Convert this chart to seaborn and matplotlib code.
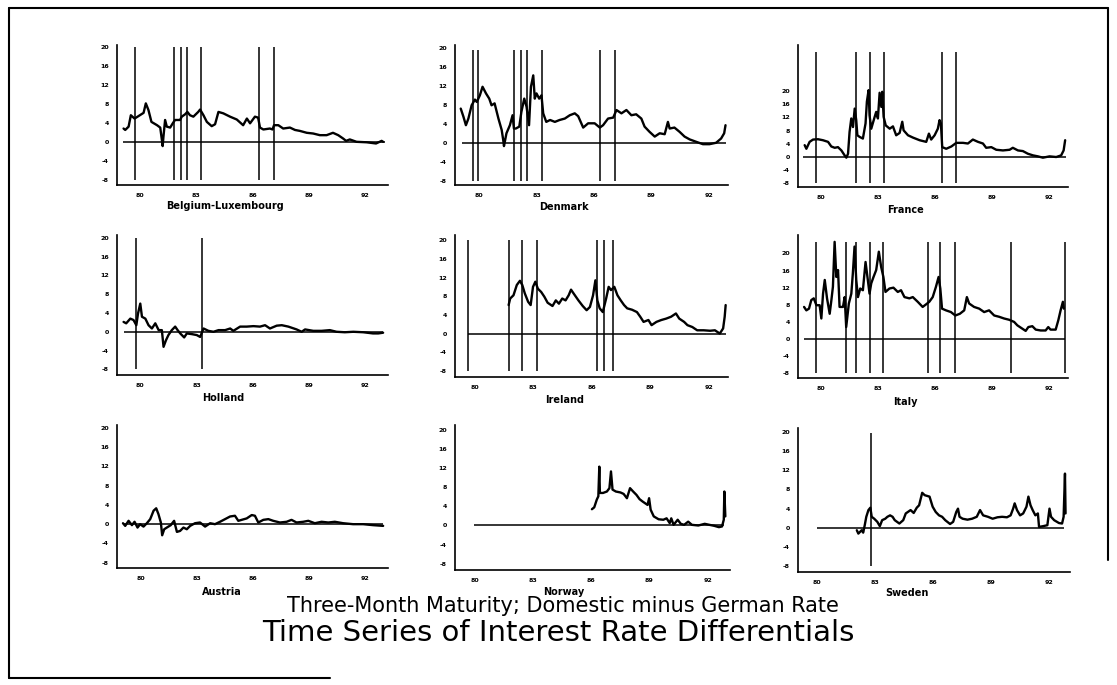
import seaborn as sns
import matplotlib.pyplot as plt
from matplotlib.lines import Line2D

# three-month rate differentials (domestic minus German)
# time axis in years (80 = 1980), values in percentage points
bel_t = [79.11, 79.2, 79.38, 79.5, 79.7, 79.9, 80.18, 80.3, 80.44, 80.6, 80.9, 81.07, 81.16, 81.2, 81.24,
         81.33, 81.42, 81.6, 81.74, 81.86, 82.13, 82.22, 82.4, 82.52, 82.66, 82.84, 83.1, 83.2, 83.38, 83.56,
         83.82, 84.0, 84.18, 84.44, 84.8, 85.16, 85.5, 85.7, 85.87, 86.13, 86.3, 86.4, 86.58, 86.93, 87.07,
         87.15, 87.38, 87.64, 88.0, 88.27, 88.53, 88.9, 89.24, 89.6, 89.96, 90.3, 90.58, 90.84, 91.0, 91.2,
         91.56, 92.1, 92.6, 92.9, 92.98]
bel_v = [2.8, 2.5, 3.2, 5.6, 4.9, 5.4, 6.1, 8.1, 6.7, 4.2, 3.5, 3.0, 0.35, -0.9, 1.0,
         4.6, 3.2, 3.0, 3.9, 4.6, 4.6, 5.3, 5.8, 6.3, 5.6, 5.3, 6.3, 6.8, 5.6, 4.2,
         3.3, 3.7, 6.3, 6.0, 5.3, 4.7, 3.5, 4.9, 3.9, 5.3, 5.1, 3.0, 2.6, 2.8, 2.6,
         3.5, 3.5, 2.8, 3.0, 2.5, 2.3, 1.9, 1.75, 1.4, 1.4, 1.9, 1.4, 0.7, 0.2, 0.5,
         0.0, -0.1, -0.35, 0.2, 0.0]
bel_realign = [79.7, 81.81, 82.19, 82.52, 83.27, 86.35, 87.15]

den_t = [79.03, 79.17, 79.3, 79.43, 79.6, 79.77, 79.87, 80.03, 80.17, 80.35, 80.52, 80.64, 80.8, 81.0, 81.17,
         81.25, 81.29, 81.42, 81.6, 81.74, 81.81, 81.91, 82.09, 82.2, 82.35, 82.47, 82.6, 82.7, 82.82, 82.9,
         82.99, 83.13, 83.25, 83.34, 83.5, 83.7, 83.95, 84.2, 84.47, 84.73, 84.99, 85.17, 85.43, 85.69, 86.03,
         86.3, 86.47, 86.73, 87.0, 87.17, 87.43, 87.69, 87.95, 88.2, 88.47, 88.64, 88.9, 89.17, 89.43, 89.69,
         89.86, 89.95, 90.2, 90.47, 90.73, 91.0, 91.34, 91.69, 92.03, 92.38, 92.64, 92.8, 92.87]
den_v = [7.2, 5.5, 3.7, 5.1, 7.9, 9.1, 8.6, 10.0, 11.8, 10.4, 9.3, 7.9, 8.3, 5.1, 2.7,
         0.6, -0.7, 2.0, 3.7, 5.8, 3.0, 3.0, 3.4, 6.5, 9.3, 7.6, 3.7, 11.8, 14.2, 9.3,
         10.4, 9.3, 10.0, 6.2, 4.4, 4.8, 4.4, 4.8, 5.1, 5.8, 6.2, 5.6, 3.2, 4.1, 4.1,
         3.2, 3.7, 5.1, 5.3, 6.9, 6.2, 6.9, 5.8, 6.0, 5.1, 3.4, 2.3, 1.3, 2.0, 1.8,
         4.4, 3.0, 3.2, 2.3, 1.3, 0.7, 0.2, -0.3, -0.3, 0.0, 0.9, 2.0, 3.7]
den_realign = [79.65, 79.95, 81.81, 82.17, 82.49, 83.27, 86.33, 87.1]

fra_t = [79.16, 79.25, 79.42, 79.6, 79.86, 80.12, 80.39, 80.56, 80.74, 80.91, 81.09, 81.26, 81.35, 81.44, 81.52,
         81.61, 81.7, 81.79, 81.87, 81.93, 82.05, 82.22, 82.36, 82.43, 82.52, 82.57, 82.66, 82.84, 82.92, 83.01,
         83.1, 83.19, 83.24, 83.31, 83.42, 83.63, 83.8, 83.97, 84.15, 84.29, 84.36, 84.59, 84.85, 85.2, 85.55,
         85.69, 85.81, 85.99, 86.16, 86.25, 86.32, 86.39, 86.6, 86.87, 87.13, 87.48, 87.74, 88.0, 88.27, 88.53,
         88.7, 88.97, 89.23, 89.58, 89.93, 90.1, 90.37, 90.63, 90.89, 91.16, 91.42, 91.68, 92.03, 92.38, 92.64,
         92.77, 92.85]
fra_v = [3.6, 2.5, 4.6, 5.3, 5.4, 5.1, 4.6, 3.2, 2.8, 3.0, 2.0, 0.5, -0.2, 1.0, 7.6,
         11.7, 9.1, 14.7, 11.2, 6.6, 6.1, 5.6, 10.2, 16.8, 20.3, 12.7, 8.6, 12.2, 13.7, 11.7,
         19.5, 15.2, 19.8, 12.2, 9.6, 8.6, 9.3, 6.6, 7.3, 10.7, 8.1, 6.6, 5.9, 5.1, 4.6,
         7.1, 5.3, 6.6, 8.6, 11.2, 10.2, 3.0, 2.5, 3.2, 4.3, 4.3, 4.1, 5.3, 4.6, 4.1,
         2.8, 3.0, 2.2, 2.0, 2.2, 2.8, 2.0, 1.8, 1.0, 0.5, 0.2, -0.2, 0.2, 0.0, 0.5,
         2.0, 5.1]
fra_realign = [79.77, 81.87, 82.57, 83.31, 86.36, 87.13]

hol_t = [79.11, 79.25, 79.47, 79.64, 79.79, 79.88, 80.0, 80.09, 80.27, 80.44, 80.62, 80.8, 80.98, 81.15, 81.24,
         81.37, 81.5, 81.68, 81.86, 81.99, 82.13, 82.34, 82.48, 82.75, 83.01, 83.19, 83.37, 83.63, 83.9, 84.17,
         84.52, 84.79, 84.96, 85.32, 85.67, 86.03, 86.38, 86.65, 86.91, 87.27, 87.54, 87.89, 88.33, 88.6, 88.78,
         89.22, 89.66, 90.1, 90.46, 90.9, 91.35, 91.88, 92.4, 92.68, 92.94]
hol_v = [2.1, 1.8, 2.8, 2.5, 1.4, 3.9, 6.0, 3.2, 2.8, 1.4, 0.7, 1.8, 0.35, 0.35, -3.2,
         -1.8, -0.7, 0.35, 1.1, 0.35, -0.35, -1.2, -0.35, -0.5, -0.7, -1.1, 0.7, 0.2, 0.0, 0.35,
         0.35, 0.7, 0.2, 1.1, 1.1, 1.2, 1.1, 1.4, 0.7, 1.3, 1.4, 1.1, 0.5, 0.0, 0.5,
         0.2, 0.2, 0.35, 0.0, -0.1, 0.0, -0.1, -0.35, -0.35, -0.2]
hol_realign = [79.77, 83.28]

ire_t = [81.75, 81.83, 82.0, 82.17, 82.33, 82.45, 82.58, 82.75, 82.88, 83.0, 83.12, 83.25, 83.42, 83.58, 83.75,
         84.0, 84.17, 84.33, 84.5, 84.67, 84.83, 84.95, 85.08, 85.33, 85.55, 85.75, 85.92, 86.08, 86.2, 86.3,
         86.42, 86.58, 86.75, 86.88, 87.0, 87.17, 87.33, 87.5, 87.67, 87.83, 88.08, 88.33, 88.5, 88.67, 88.92,
         89.08, 89.33, 89.58, 89.83, 90.08, 90.33, 90.5, 90.75, 90.92, 91.17, 91.42, 91.75, 92.08, 92.33, 92.58,
         92.75, 92.83, 92.88]
ire_v = [6.1, 7.5, 8.2, 10.4, 11.3, 10.4, 8.6, 6.8, 6.1, 10.0, 11.1, 9.6, 8.9, 7.9, 6.6,
         5.9, 7.1, 6.4, 7.5, 7.1, 8.2, 9.4, 8.6, 7.1, 5.9, 5.0, 5.7, 8.2, 11.4, 7.1,
         5.4, 4.6, 7.5, 10.0, 9.3, 10.0, 8.2, 7.1, 6.1, 5.4, 5.1, 4.6, 3.6, 2.5, 2.9,
         1.8, 2.5, 2.9, 3.2, 3.6, 4.3, 3.2, 2.5, 1.8, 1.4, 0.7, 0.7, 0.6, 0.7, 0.0,
         1.1, 3.6, 6.1]
ire_realign = [79.67, 81.75, 82.45, 83.22, 86.28, 86.63, 87.1]

ita_t = [79.09, 79.21, 79.35, 79.47, 79.6, 79.74, 79.91, 80.0, 80.09, 80.18, 80.3, 80.44, 80.53, 80.61, 80.7,
         80.79, 80.88, 80.96, 81.14, 81.23, 81.31, 81.45, 81.58, 81.66, 81.75, 81.84, 81.93, 82.05, 82.19, 82.33,
         82.45, 82.54, 82.63, 82.75, 82.89, 83.03, 83.15, 83.27, 83.38, 83.59, 83.8, 84.03, 84.2, 84.38, 84.64,
         84.82, 85.08, 85.34, 85.52, 85.69, 85.87, 86.04, 86.18, 86.27, 86.36, 86.57, 86.83, 87.06, 87.3, 87.53,
         87.67, 87.79, 88.05, 88.32, 88.58, 88.84, 89.11, 89.37, 89.63, 89.9, 90.16, 90.33, 90.6, 90.77, 90.91,
         91.12, 91.3, 91.56, 91.82, 91.96, 92.08, 92.35, 92.49, 92.61, 92.73, 92.78]
ita_v = [7.5, 6.7, 7.1, 9.1, 9.5, 7.9, 7.9, 4.8, 10.6, 13.8, 9.5, 5.9, 9.1, 12.2, 22.7,
         14.5, 16.1, 7.5, 7.5, 9.8, 2.8, 8.3, 10.6, 15.3, 21.6, 13.8, 9.8, 11.8, 11.4, 18.0,
         13.8, 10.6, 13.0, 14.5, 16.1, 20.4, 16.9, 14.5, 11.0, 11.8, 12.0, 11.0, 11.4, 9.8, 9.5,
         9.8, 8.7, 7.5, 8.1, 8.7, 9.8, 12.2, 14.5, 11.8, 7.1, 6.7, 6.3, 5.5, 5.9, 6.7,
         9.8, 8.3, 7.5, 7.1, 6.3, 6.7, 5.5, 5.2, 4.8, 4.5, 4.0, 3.2, 2.4, 1.9, 2.8,
         3.0, 2.2, 2.0, 2.0, 2.8, 2.2, 2.2, 4.4, 6.7, 8.7, 7.1]
ita_realign = [79.74, 81.31, 81.84, 82.54, 83.27, 85.6, 86.27, 87.06, 90.02, 92.84]

aut_t = [79.04, 79.16, 79.34, 79.52, 79.66, 79.82, 79.96, 80.14, 80.32, 80.5, 80.68, 80.82, 80.94, 81.07, 81.14,
         81.25, 81.39, 81.6, 81.78, 81.93, 82.1, 82.28, 82.46, 82.64, 82.9, 83.17, 83.44, 83.71, 83.97, 84.24,
         84.51, 84.78, 85.04, 85.22, 85.4, 85.67, 85.94, 86.11, 86.29, 86.56, 86.83, 87.09, 87.45, 87.81, 88.07,
         88.34, 88.7, 88.97, 89.32, 89.68, 90.04, 90.39, 90.84, 91.37, 91.91, 92.44, 92.98]
aut_v = [0.2, -0.35, 0.7, -0.2, 0.5, -0.7, 0.0, -0.5, 0.2, 1.05, 2.8, 3.3, 2.1, 0.35, -2.3,
         -1.05, -0.7, -0.2, 0.7, -1.6, -1.4, -0.7, -1.05, -0.35, 0.2, 0.35, -0.5, 0.2, 0.0, 0.5,
         1.05, 1.6, 1.75, 0.7, 0.9, 1.2, 1.9, 1.75, 0.35, 0.9, 1.05, 0.7, 0.35, 0.5, 0.9,
         0.35, 0.5, 0.7, 0.2, 0.5, 0.35, 0.5, 0.2, 0.0, 0.0, -0.2, -0.35]

nor_t = [86.04, 86.16, 86.29, 86.37, 86.42, 86.45, 86.61, 86.81, 86.94, 87.02, 87.1, 87.27, 87.51, 87.67, 87.84,
         88.0, 88.16, 88.33, 88.49, 88.65, 88.9, 88.98, 89.06, 89.22, 89.47, 89.71, 89.88, 90.04, 90.12, 90.24,
         90.45, 90.61, 90.78, 90.99, 91.18, 91.51, 91.84, 92.08, 92.33, 92.57, 92.73, 92.82, 92.85, 92.9]
nor_v = [3.4, 3.8, 5.4, 6.1, 12.3, 6.8, 6.8, 7.1, 7.8, 11.3, 7.5, 7.1, 6.9, 6.6, 5.7,
         7.8, 7.1, 6.4, 5.5, 5.0, 4.3, 5.7, 3.3, 1.9, 1.3, 1.2, 1.5, 0.5, 1.5, 0.14,
         1.2, 0.35, 0.14, 0.8, 0.14, 0.0, 0.35, 0.14, -0.07, -0.35, -0.2, 1.2, 7.1, 1.9]

swe_t = [82.04, 82.12, 82.29, 82.37, 82.45, 82.53, 82.64, 82.74, 82.81, 82.94, 83.1, 83.23, 83.35, 83.51, 83.62,
         83.76, 83.89, 84.0, 84.24, 84.44, 84.57, 84.82, 84.98, 85.14, 85.26, 85.42, 85.55, 85.8, 85.96, 86.12,
         86.29, 86.45, 86.61, 86.86, 87.02, 87.18, 87.27, 87.35, 87.51, 87.76, 88.0, 88.24, 88.41, 88.57, 88.82,
         89.06, 89.31, 89.55, 89.8, 89.99, 90.12, 90.2, 90.32, 90.48, 90.64, 90.81, 90.91, 91.02, 91.13, 91.27,
         91.4, 91.46, 91.67, 91.89, 92.0, 92.08, 92.24, 92.49, 92.65, 92.73, 92.8, 92.83]
swe_v = [-0.5, -1.2, -0.5, -1.0, 0.55, 2.3, 3.7, 4.2, 2.3, 1.9, 1.25, 0.35, 1.6, 1.9, 2.3,
         2.6, 2.3, 1.6, 0.9, 1.6, 3.0, 3.7, 3.1, 4.2, 4.7, 7.3, 6.8, 6.5, 4.4, 3.3,
         2.6, 2.3, 1.6, 0.8, 1.25, 3.3, 4.0, 2.3, 1.9, 1.7, 1.9, 2.3, 3.7, 2.6, 2.3,
         1.9, 2.2, 2.3, 2.2, 2.6, 4.0, 5.1, 3.7, 2.6, 3.0, 4.4, 6.5, 4.7, 3.7, 2.6,
         3.0, 0.2, 0.35, 0.55, 4.0, 2.3, 1.6, 1.0, 0.9, 2.3, 11.3, 3.0]
swe_realign = [82.78]

countries = ['Belgium-Luxembourg', 'Denmark', 'France', 'Holland', 'Ireland', 'Italy',
             'Austria', 'Norway', 'Sweden']
series = [(bel_t, bel_v, bel_realign), (den_t, den_v, den_realign), (fra_t, fra_v, fra_realign),
          (hol_t, hol_v, hol_realign), (ire_t, ire_v, ire_realign), (ita_t, ita_v, ita_realign),
          (aut_t, aut_v, []), (nor_t, nor_v, []), (swe_t, swe_v, swe_realign)]
zero_span = [(79.08, 93.07), (79.08, 92.9), (79.07, 92.9), (79.11, 92.94), (79.67, 92.9),
             (79.09, 92.84), (79.04, 92.98), (80.0, 92.82), (80.0, 92.73)]
year_ticks = [80, 83, 86, 89, 92]
year_labels = ['80', '83', '86', '89', '92']
rate_ticks = [-8, -4, 0, 4, 8, 12, 16, 20]

# layout, in pixels of the 1117x685 page: axes box (left, top, right, bottom)
W, H = 1117, 685
boxes = [(117, 45, 388, 185), (455, 45, 728, 185), (798, 45, 1068, 187),
         (117, 235, 388, 375), (455, 235, 728, 377), (798, 235, 1068, 378),
         (117, 425, 388, 568), (455, 425, 730, 570), (798, 428, 1070, 572)]
xlims = [(78.76, 93.24), (78.73, 93.0), (78.81, 93.0), (78.76, 93.2), (79.33, 93.0),
         (78.77, 92.96), (78.72, 93.24), (79.67, 93.14), (79.76, 93.06)]
ylims = [(-9.1, 20.4), (-8.9, 20.6), (-9.1, 34.0), (-9.2, 20.6), (-9.3, 21.1),
         (-9.1, 24.3), (-9.1, 20.6), (-9.3, 21.0), (-9.2, 20.8)]
vtops = [20, 19.6, 32, 20, 20, 22.7, 20, 20, 19.7]
label_pos = [(225, 206), (564, 207), (906, 210), (223, 398), (565, 400), (905, 402),
             (222, 592), (564, 592), (907, 593)]

sns.set_style('white')
plt.rcParams['font.family'] = ['DejaVu Sans']
plt.rcParams['text.color'] = 'black'

fig = plt.figure(figsize=(W / 100, H / 100), dpi=100)

for i, name in enumerate(countries):
    t, v, realign = series[i]
    l, top, r, b = boxes[i]
    ax = fig.add_axes([l / W, 1 - b / H, (r - l) / W, (b - top) / H])
    sns.lineplot(x=t, y=v, ax=ax, color='black', lw=1.7, estimator=None, sort=False)
    ax.hlines(0, zero_span[i][0], zero_span[i][1], color='black', lw=1.1)
    if realign:
        ax.vlines(realign, -8, vtops[i], color='black', lw=1.1)
    ax.set_xlim(*xlims[i])
    ax.set_ylim(*ylims[i])
    ax.set_xticks(year_ticks)
    ax.set_xticklabels(year_labels)
    ax.set_xticks(range(79, 94), minor=True)
    ax.set_yticks(rate_ticks)
    ax.set_yticklabels([str(y) for y in rate_ticks])
    ax.tick_params(axis='both', which='major', length=4, width=1, labelsize=4.5, pad=2,
                   direction='out', colors='black')
    ax.tick_params(axis='x', which='minor', length=2, width=0.8, direction='out', colors='black')
    for lab in ax.get_xticklabels() + ax.get_yticklabels():
        lab.set_fontweight('bold')
    for s in ['top', 'right']:
        ax.spines[s].set_visible(False)
    for s in ['left', 'bottom']:
        ax.spines[s].set_color('black')
        ax.spines[s].set_linewidth(1.2)
    ax.set_xlabel('')
    ax.set_ylabel('')
    ax.patch.set_alpha(0)
    fig.text(label_pos[i][0] / W, 1 - label_pos[i][1] / H, name, ha='center', va='center',
             fontsize=7, fontweight='bold', color='black')

fig.text(563 / W, 1 - 606 / H, 'Three-Month Maturity; Domestic minus German Rate',
         ha='center', va='center', fontsize=15, color='black')
fig.text(558 / W, 1 - 633 / H, 'Time Series of Interest Rate Differentials',
         ha='center', va='center', fontsize=21, color='black')

# page frame of the scanned sheet
frame = [((9, 1108), (8, 8)), ((9, 9), (8, 678)), ((1108, 1108), (8, 560)), ((9, 330), (678, 678))]
for xs, ys in frame:
    fig.add_artist(Line2D([x / W for x in xs], [1 - y / H for y in ys], color='black', lw=1.5,
                          transform=fig.transFigure))

fig.savefig('out.png', dpi=100)
